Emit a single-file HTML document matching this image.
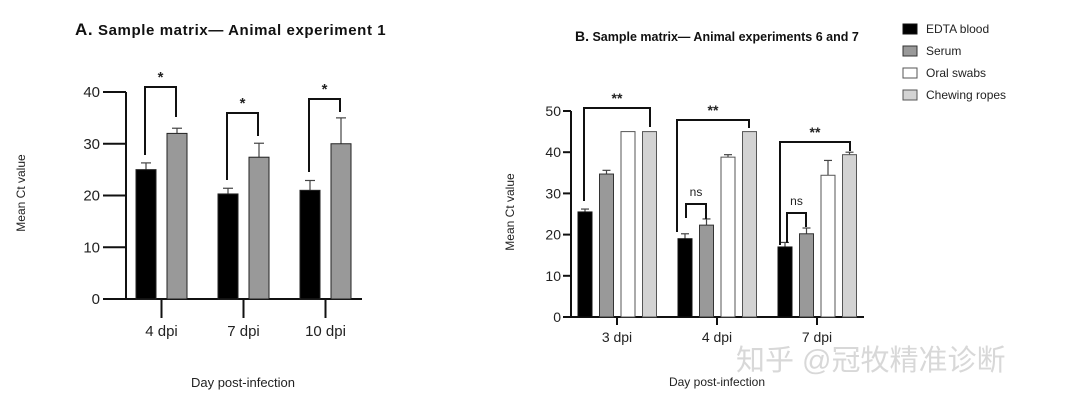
<!DOCTYPE html>
<html><head><meta charset="utf-8"><style>
body{margin:0;background:#fff;width:1080px;height:403px;overflow:hidden}
svg{font-family:"Liberation Sans","Noto Sans CJK SC",sans-serif}
</style></head><body>
<svg id="s" width="1080" height="403">
<text x="75" y="35" font-size="15" font-weight="bold" fill="#111" letter-spacing="0.6"><tspan font-size="17">A.</tspan> Sample matrix— Animal experiment 1</text>
<text x="575" y="41" font-size="12.5" font-weight="bold" fill="#111"><tspan font-size="14">B.</tspan> Sample matrix— Animal experiments 6 and 7</text>
<text transform="translate(25,193) rotate(-90)" text-anchor="middle" font-size="12" fill="#222">Mean Ct value</text>
<text transform="translate(514,212) rotate(-90)" text-anchor="middle" font-size="12" fill="#222">Mean Ct value</text>
<text x="243" y="387" text-anchor="middle" font-size="13" fill="#222">Day post-infection</text>
<text x="717" y="386" text-anchor="middle" font-size="12" fill="#222">Day post-infection</text>
<text x="736" y="370" font-size="29" fill="#d8d8d8">知乎 @冠牧精准诊断</text>
</svg>
<script>
const catsA=["4 dpi","7 dpi","10 dpi"];
const bloodA=[25,20.3,21];
const bloodErrA=[1.3,1.1,1.9];
const serumA=[32,27.4,30];
const serumErrA=[1,2.7,5];
const ticksA=[0,10,20,30,40];
const catsB=["3 dpi","4 dpi","7 dpi"];
const bloodB=[25.5,19,17];
const bloodErrB=[0.7,1.2,1.1];
const serumB=[34.7,22.3,20.2];
const serumErrB=[0.9,1.5,1.4];
const oralB=[45,38.8,34.4];
const oralErrB=[0,0.6,3.6];
const ropeB=[45,45,39.4];
const ropeErrB=[0,0,0.6];
const ticksB=[0,10,20,30,40,50];
const legendLabels=["EDTA blood","Serum","Oral swabs","Chewing ropes"];
const S=document.getElementById('s');
function el(t,a,txt){const e=document.createElementNS('http://www.w3.org/2000/svg',t);for(const k in a)e.setAttribute(k,a[k]);if(txt!=null)e.textContent=txt;S.appendChild(e);return e;}
function line(x1,y1,x2,y2,w,c){return el('line',{x1,y1,x2,y2,stroke:c||'#111','stroke-width':w||2});}
// Chart A
const yA=v=>299-v*5.175, xA=i=>161.5+i*82;
line(126,92,126,299,2);line(126,299,362,299,2);
ticksA.forEach(t=>{line(103,yA(t),126,yA(t),2);const e=el('text',{x:100,y:yA(t)+5,'text-anchor':'end','font-size':15,fill:'#222'},t);

});
catsA.forEach((c,i)=>{line(xA(i),299,xA(i),318,2);const e=el('text',{x:xA(i),y:336,'text-anchor':'middle','font-size':15,fill:'#222'},c);

});
function barA(vals,errs,off,fill,name){vals.forEach((v,i)=>{const x=xA(i)+off;
if(errs[i]>0){line(x+10,yA(v+errs[i]),x+10,yA(v),1.2,'#444');line(x+5,yA(v+errs[i]),x+15,yA(v+errs[i]),1.2,'#444');}
const r=el('rect',{x:x,y:yA(v),width:20,height:yA(0)-yA(v),fill:fill,stroke:'#222','stroke-width':1});

});}
barA(bloodA,bloodErrA,-25.5,'#000','bar-a-edta');
barA(serumA,serumErrA,5.5,'#999','bar-a-serum');
function bracket(x1,x2,y,yl,yr,lab,fs){const p=el('path',{d:`M${x1} ${yl}V${y}H${x2}V${yr}`,fill:'none',stroke:'#111','stroke-width':2});


const t=el('text',{x:(x1+x2)/2,y:y-(lab=='ns'?8:5),'text-anchor':'middle','font-size':fs,fill:'#222','font-weight':lab=='ns'?'normal':'bold'},lab);

}
bracket(145,176,87,155,117,'*',15);bracket(227,258,113,180,136,'*',15);bracket(309,340,99,172,112,'*',15);
// Chart B
const yB=v=>317-v*4.12, xB=i=>617+i*100;
line(571,111,571,317,2);line(571,317,864,317,2);
ticksB.forEach(t=>{line(563,yB(t),571,yB(t),2);const e=el('text',{x:561,y:yB(t)+5,'text-anchor':'end','font-size':14,fill:'#222'},t);

});
catsB.forEach((c,i)=>{line(xB(i),317,xB(i),325,2);const e=el('text',{x:xB(i),y:342,'text-anchor':'middle','font-size':14,fill:'#222'},c);

});
function barB(vals,errs,k,fill,stroke,name){vals.forEach((v,i)=>{const x=xB(i)-39+k*21.5;
if(errs[i]>0){line(x+7,yB(v+errs[i]),x+7,yB(v),1.2,'#444');line(x+3,yB(v+errs[i]),x+11,yB(v+errs[i]),1.2,'#444');}
const r=el('rect',{x:x,y:yB(v),width:14,height:yB(0)-yB(v),fill:fill,stroke:stroke,'stroke-width':1});

});}
barB(bloodB,bloodErrB,0,'#000','#111','bar-b-edta');
barB(serumB,serumErrB,1,'#999','#333','bar-b-serum');
barB(oralB,oralErrB,2,'#fff','#555','bar-b-oral');
barB(ropeB,ropeErrB,3,'#d3d3d3','#555','bar-b-rope');
bracket(584,650,108,201,127,'**',14);bracket(677,749,120,232,128,'**',14);bracket(780,850,142,245,151,'**',14);
bracket(686,706,204,218,219,'ns',12);bracket(787,806,213,243,227,'ns',12);
// Legend
const lf=['#000','#999','#fff','#d3d3d3'],ls=['#111','#333','#555','#555'];
legendLabels.forEach((l,i)=>{const y=29+i*22;
const r=el('rect',{x:903,y:y-5,width:14,height:10,fill:lf[i],stroke:ls[i],'stroke-width':1});


const t=el('text',{x:926,y:y+4,'font-size':12,fill:'#222'},l);

});
</script>
</body></html>
